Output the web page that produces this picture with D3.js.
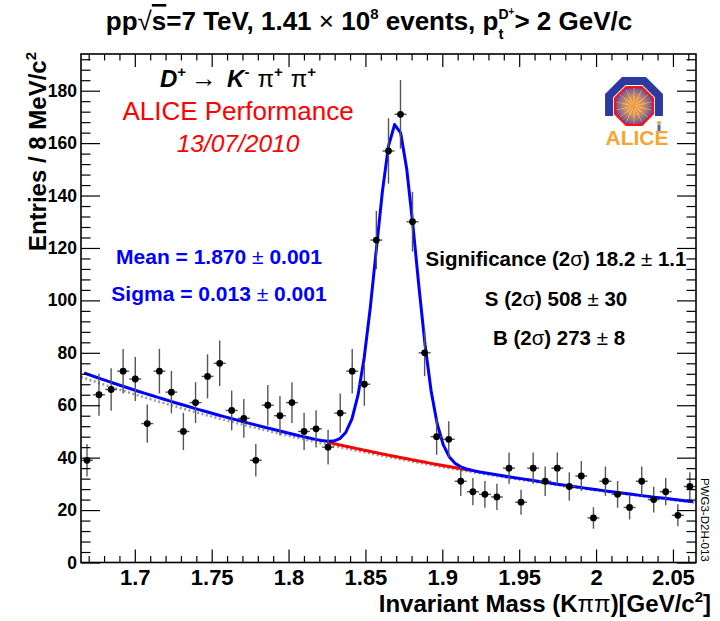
<!DOCTYPE html>
<html>
<head>
<meta charset="utf-8">
<script src="https://cdn.jsdelivr.net/npm/d3@7"></script>
<style>
body { margin: 0; background: #fff; }
svg { display: block; font-family: "Liberation Sans", Arial, sans-serif; }
</style>
</head>
<body>
<svg id="chart" width="720" height="621"></svg>
<script>
//                       -------------                data ---------- start
// histogram range (GeV/c2) and bin centres
let xLow = 1.665
let xHigh = 2.065
let yMax = 194

let massBins = [1.6689, 1.6767, 1.6846, 1.6924, 1.7003, 1.7081, 1.7160, 1.7238, 1.7316, 1.7395,
	1.7473, 1.7552, 1.7630, 1.7709, 1.7787, 1.7865, 1.7944, 1.8022, 1.8101, 1.8179,
	1.8257, 1.8336, 1.8414, 1.8493, 1.8571, 1.8650, 1.8728, 1.8806, 1.8885, 1.8963,
	1.9042, 1.9120, 1.9199, 1.9277, 1.9355, 1.9434, 1.9512, 1.9591, 1.9669, 1.9748,
	1.9826, 1.9904, 1.9983, 2.0061, 2.0140, 2.0218, 2.0297, 2.0375, 2.0453, 2.0532, 2.0610]

let counts = [39, 64, 66, 73, 70, 53, 73, 65, 50, 61,
	71, 76, 58, 55, 39, 60, 56, 61, 50, 51,
	44, 57, 73, 68, 123, 157, 171, 130, 80, 48,
	47, 31, 27, 26, 25, 36, 23, 36, 31, 36,
	29, 33, 17, 31, 26, 21, 31, 24, 27, 18, 29]

let errors = [6.2, 8.0, 8.1, 8.5, 8.4, 7.3, 8.5, 8.1, 7.1, 7.8,
	8.4, 8.7, 7.6, 7.4, 6.2, 7.7, 7.5, 7.8, 7.1, 7.1,
	6.6, 7.5, 8.5, 8.2, 11.1, 12.5, 13.1, 11.4, 8.9, 6.9,
	6.9, 5.6, 5.2, 5.1, 5.0, 6.0, 4.8, 6.0, 5.6, 6.0,
	5.4, 5.7, 4.1, 5.6, 5.1, 4.6, 5.6, 4.9, 5.2, 4.2, 5.4]

let xMajorTicks = [1.7, 1.75, 1.8, 1.85, 1.9, 1.95, 2.0, 2.05]
let xTickLabels = ['1.7', '1.75', '1.8', '1.85', '1.9', '1.95', '2', '2.05']
let yMajorTicks = [0, 20, 40, 60, 80, 100, 120, 140, 160, 180]

// fit: gaussian [amplitude, mean, sigma] + exponential background [value at xLow, slope]
let gausPars = [127, 1.870, 0.013]
let bgPars = [72.7, 2.869]
let sidebandPars = [70.8, 2.825]
let fitRange = [1.667, 2.063]
let redRange = [1.825, 1.918]
//                       -------------                data ---------- end

let svg = d3.select('#chart')
let frame = {left: 81, right: 696, top: 54, bottom: 562.5}

let x = d3.scaleLinear().domain([xLow, xHigh]).range([frame.left, frame.right])
let y = d3.scaleLinear().domain([0, yMax]).range([frame.bottom, frame.top])

function bg(m, p) { return p[0] * Math.exp(-p[1] * (m - xLow)) }
function total(m) {
	let g = gausPars[0] * Math.exp(-0.5 * Math.pow((m - gausPars[1]) / gausPars[2], 2))
	return g + bg(m, bgPars)
}
// sample like a TF1 with 100 points
function sample(lo, hi, f) {
	return d3.range(0, 101).map(i => {
		let m = lo + i * (hi - lo) / 100
		return [m, f(m)]
	})
}

let line = d3.line().x(d => x(d[0])).y(d => y(d[1]))

let plot = svg.append('g').attr('class', 'plot')

// background from sidebands, gray dotted
plot.append('path')
	.attr('d', line(sample(xLow, xHigh, m => bg(m, sidebandPars))))
	.attr('fill', 'none')
	.attr('stroke', '#9a9a9a')
	.attr('stroke-width', 2.5)
	.attr('stroke-dasharray', '2,2.5')

// background under the peak
plot.append('path')
	.attr('d', line(sample(redRange[0], redRange[1], m => bg(m, bgPars))))
	.attr('fill', 'none')
	.attr('stroke', '#ff0000')
	.attr('stroke-width', 3)

// total fit
plot.append('path')
	.attr('d', line(sample(fitRange[0], fitRange[1], total)))
	.attr('fill', 'none')
	.attr('stroke', '#0000ff')
	.attr('stroke-width', 3)
	.attr('stroke-linejoin', 'round')

// data points with errors
let halfBin = (massBins[1] - massBins[0]) / 2
let pts = plot.append('g').attr('class', 'points')
	.selectAll('g').data(massBins.map((m, i) => ({m: m, c: counts[i], e: errors[i]})))
	.enter().append('g')

pts.append('line')
	.attr('x1', d => x(d.m)).attr('x2', d => x(d.m))
	.attr('y1', d => y(d.c - d.e)).attr('y2', d => y(d.c + d.e))
	.attr('stroke', '#555').attr('stroke-width', 1.4)
pts.append('line')
	.attr('x1', d => x(d.m - halfBin)).attr('x2', d => x(d.m + halfBin))
	.attr('y1', d => y(d.c)).attr('y2', d => y(d.c))
	.attr('stroke', '#555').attr('stroke-width', 1.4)
pts.append('circle')
	.attr('cx', d => x(d.m)).attr('cy', d => y(d.c))
	.attr('r', 3.4)
	.attr('fill', '#000')

//                       -------------                axes ---------- start
let xMinor = d3.range(1.67, 2.0651, 0.01).filter(v => !xMajorTicks.some(t => Math.abs(t - v) < 1e-6))
let yMinor = d3.range(0, 193, 4).filter(v => v % 20 !== 0)

function styleAxis(g) {
	g.select('.domain').remove()
	g.selectAll('.tick line').attr('stroke', '#000').attr('stroke-width', 1.2)
}

// bottom
svg.append('g').attr('transform', `translate(0,${frame.bottom})`)
	.call(d3.axisBottom(x).tickValues(xMinor).tickSize(-6.5).tickFormat(''))
	.call(styleAxis)
svg.append('g').attr('transform', `translate(0,${frame.bottom})`)
	.call(d3.axisBottom(x).tickValues(xMajorTicks).tickSize(-13).tickPadding(6.5)
		.tickFormat((d, i) => xTickLabels[i]))
	.call(styleAxis)
	.selectAll('text')
	.attr('font-size', 22).attr('font-weight', 'bold').attr('fill', '#000')
	.attr('font-family', '"Liberation Sans", Arial, sans-serif')

// top (ticks only)
svg.append('g').attr('transform', `translate(0,${frame.top})`)
	.call(d3.axisTop(x).tickValues(xMinor).tickSize(-6.5).tickFormat(''))
	.call(styleAxis)
svg.append('g').attr('transform', `translate(0,${frame.top})`)
	.call(d3.axisTop(x).tickValues(xMajorTicks).tickSize(-13).tickFormat(''))
	.call(styleAxis)

// left
svg.append('g').attr('transform', `translate(${frame.left},0)`)
	.call(d3.axisLeft(y).tickValues(yMinor).tickSize(-9.5).tickFormat(''))
	.call(styleAxis)
svg.append('g').attr('transform', `translate(${frame.left},0)`)
	.call(d3.axisLeft(y).tickValues(yMajorTicks).tickSize(-19).tickPadding(4).tickFormat(d3.format('d')))
	.call(styleAxis)
	.selectAll('text')
	.attr('font-size', 17.5).attr('font-weight', 'bold').attr('fill', '#000')
	.attr('font-family', '"Liberation Sans", Arial, sans-serif')

// right (ticks only)
svg.append('g').attr('transform', `translate(${frame.right},0)`)
	.call(d3.axisRight(y).tickValues(yMinor).tickSize(-9.5).tickFormat(''))
	.call(styleAxis)
svg.append('g').attr('transform', `translate(${frame.right},0)`)
	.call(d3.axisRight(y).tickValues(yMajorTicks).tickSize(-19).tickFormat(''))
	.call(styleAxis)

svg.append('rect')
	.attr('x', frame.left).attr('y', frame.top)
	.attr('width', frame.right - frame.left).attr('height', frame.bottom - frame.top)
	.attr('fill', 'none').attr('stroke', '#000').attr('stroke-width', 1.6)
//                       -------------                axes ---------- end

//                       -------------                texts ---------- start
// axis titles
let xt = svg.append('text')
	.attr('x', 711).attr('y', 612)
	.attr('text-anchor', 'end').attr('font-size', 24).attr('font-weight', 'bold')
xt.append('tspan').text('Invariant Mass (K')
xt.append('tspan').attr('font-weight', 'normal').text('ππ')
xt.append('tspan').text(')[GeV/c')
xt.append('tspan').attr('font-size', 15).attr('dy', -10).text('2')
xt.append('tspan').attr('dy', 10).text(']')

let yt = svg.append('text')
	.attr('transform', 'translate(46,52) rotate(-90)')
	.attr('text-anchor', 'end').attr('font-size', 24).attr('font-weight', 'bold')
yt.append('tspan').text('Entries / 8 MeV/c')
yt.append('tspan').attr('font-size', 15).attr('dy', -10).text('2')

// title
let tt = svg.append('text')
	.attr('x', 369).attr('y', 30)
	.attr('text-anchor', 'middle').attr('font-size', 26).attr('font-weight', 'bold')
tt.append('tspan').text('pp')
tt.append('tspan').attr('font-weight', 'normal').text('√')
tt.append('tspan').style('text-decoration', 'overline').text('s')
tt.append('tspan').text('=7 TeV, 1.41 ')
tt.append('tspan').attr('font-weight', 'normal').text('×')
tt.append('tspan').text(' 10')
tt.append('tspan').attr('font-size', 15).attr('dy', -11).text('8')
tt.append('tspan').attr('dy', 11).text(' events, p')
tt.append('tspan').attr('font-size', 15).attr('dy', 9).text('t')
tt.append('tspan').attr('font-size', 14).attr('dx', -5).attr('dy', -20).text('D')
tt.append('tspan').attr('font-size', 10).attr('dy', -4).text('+')
tt.append('tspan').attr('dy', 15).text('> 2 GeV/c')

// decay channel
let dc = svg.append('text')
	.attr('x', 160).attr('y', 87)
	.attr('font-size', 24)
dc.append('tspan').attr('font-weight', 'bold').attr('font-style', 'italic').text('D')
dc.append('tspan').attr('font-size', 15).attr('font-weight', 'bold').attr('dy', -10).text('+')
dc.append('tspan').attr('dy', 10).attr('dx', 5).attr('font-size', 26).text('→')
dc.append('tspan').attr('dx', 10).attr('font-weight', 'bold').attr('font-style', 'italic').text('K')
dc.append('tspan').attr('font-size', 15).attr('font-weight', 'bold').attr('dy', -10).text('-')
dc.append('tspan').attr('dy', 10).attr('dx', 8).text('π')
dc.append('tspan').attr('font-size', 15).attr('font-weight', 'bold').attr('dy', -10).text('+')
dc.append('tspan').attr('dy', 10).attr('dx', 8).text('π')
dc.append('tspan').attr('font-size', 15).attr('font-weight', 'bold').attr('dy', -10).text('+')

svg.append('text')
	.attr('x', 238).attr('y', 120)
	.attr('text-anchor', 'middle').attr('font-size', 26).attr('fill', '#ff0000')
	.text('ALICE Performance')
svg.append('text')
	.attr('x', 238).attr('y', 152)
	.attr('text-anchor', 'middle').attr('font-size', 24.5).attr('font-style', 'italic').attr('fill', '#ff0000')
	.text('13/07/2010')

// fit results
function pmText(xp, yp, anchor, color, parts) {
	let t = svg.append('text')
		.attr('x', xp).attr('y', yp)
		.attr('text-anchor', anchor).attr('font-size', 21).attr('font-weight', 'bold').attr('fill', color)
	t.append('tspan').text(parts[0])
	t.append('tspan').attr('font-weight', 'normal').text('±')
	t.append('tspan').text(parts[1])
	return t
}
pmText(219, 264, 'middle', '#0000ff', ['Mean = 1.870 ', ' 0.001'])
pmText(219, 301, 'middle', '#0000ff', ['Sigma = 0.013 ', ' 0.001'])

let sig = svg.append('text')
	.attr('x', 556).attr('y', 266)
	.attr('text-anchor', 'middle').attr('font-size', 20.5).attr('font-weight', 'bold')
sig.append('tspan').text('Significance (2')
sig.append('tspan').attr('font-weight', 'normal').text('σ')
sig.append('tspan').text(') 18.2 ')
sig.append('tspan').attr('font-weight', 'normal').text('±')
sig.append('tspan').text(' 1.1')

let sTxt = svg.append('text')
	.attr('x', 556).attr('y', 306)
	.attr('text-anchor', 'middle').attr('font-size', 20.5).attr('font-weight', 'bold')
sTxt.append('tspan').text('S (2')
sTxt.append('tspan').attr('font-weight', 'normal').text('σ')
sTxt.append('tspan').text(') 508 ')
sTxt.append('tspan').attr('font-weight', 'normal').text('±')
sTxt.append('tspan').text(' 30')

let bTxt = svg.append('text')
	.attr('x', 559).attr('y', 345)
	.attr('text-anchor', 'middle').attr('font-size', 20.5).attr('font-weight', 'bold')
bTxt.append('tspan').text('B (2')
bTxt.append('tspan').attr('font-weight', 'normal').text('σ')
bTxt.append('tspan').text(') 273 ')
bTxt.append('tspan').attr('font-weight', 'normal').text('±')
bTxt.append('tspan').text(' 8')

svg.append('text')
	.attr('transform', 'translate(701,478) rotate(90)')
	.attr('font-size', 11.5)
	.text('PWG3-D2H-013')
//                       -------------                texts ---------- end

//                       -------------                logo ---------- start
let logo = svg.append('g').attr('transform', 'translate(634,106)')
let defs = svg.append('defs')
let rg = defs.append('radialGradient').attr('id', 'core')
rg.append('stop').attr('offset', '0%').attr('stop-color', '#ffd23a')
rg.append('stop').attr('offset', '45%').attr('stop-color', '#d9a060')
rg.append('stop').attr('offset', '100%').attr('stop-color', '#5a4aa8')

function octagon(r) {
	return d3.range(8).map(k => {
		let a = Math.PI / 8 + k * Math.PI / 4
		return [r * Math.cos(a), r * Math.sin(a)]
	})
}
let outer = octagon(27)
// blue arch over the top
logo.append('path')
	.attr('d', `M ${outer[3][0]} 10 L ${outer[4][0]} ${outer[4][1]} L ${outer[5][0]} ${outer[5][1]} L ${outer[6][0]} ${outer[6][1]} L ${outer[7][0]} ${outer[7][1]} L ${outer[0][0]} 10`)
	.attr('fill', 'none').attr('stroke', '#2b3a9c').attr('stroke-width', 8)
logo.append('polygon')
	.attr('points', octagon(20.5).map(p => p.join(',')).join(' '))
	.attr('fill', 'url(#core)').attr('stroke', '#ff1010').attr('stroke-width', 2.2)
logo.append('g').selectAll('line').data(d3.range(28))
	.enter().append('line')
	.attr('x1', 0).attr('y1', 0)
	.attr('x2', d => 18 * Math.cos(d * Math.PI / 14))
	.attr('y2', d => 18 * Math.sin(d * Math.PI / 14))
	.attr('stroke', (d, i) => i % 2 ? '#ffcc33' : '#e05a8a')
	.attr('stroke-width', 0.8).attr('opacity', 0.7)
logo.append('circle').attr('cx', 25).attr('cy', 17).attr('r', 2).attr('fill', '#f0a030')
logo.append('rect').attr('x', 23.5).attr('y', 19).attr('width', 3).attr('height', 6).attr('fill', '#3a70c0')
logo.append('text')
	.attr('x', 3).attr('y', 39)
	.attr('text-anchor', 'middle').attr('font-size', 21).attr('font-weight', 'bold').attr('fill', '#f9a533')
	.text('ALICE')
//                       -------------                logo ---------- end
</script>
</body>
</html>
